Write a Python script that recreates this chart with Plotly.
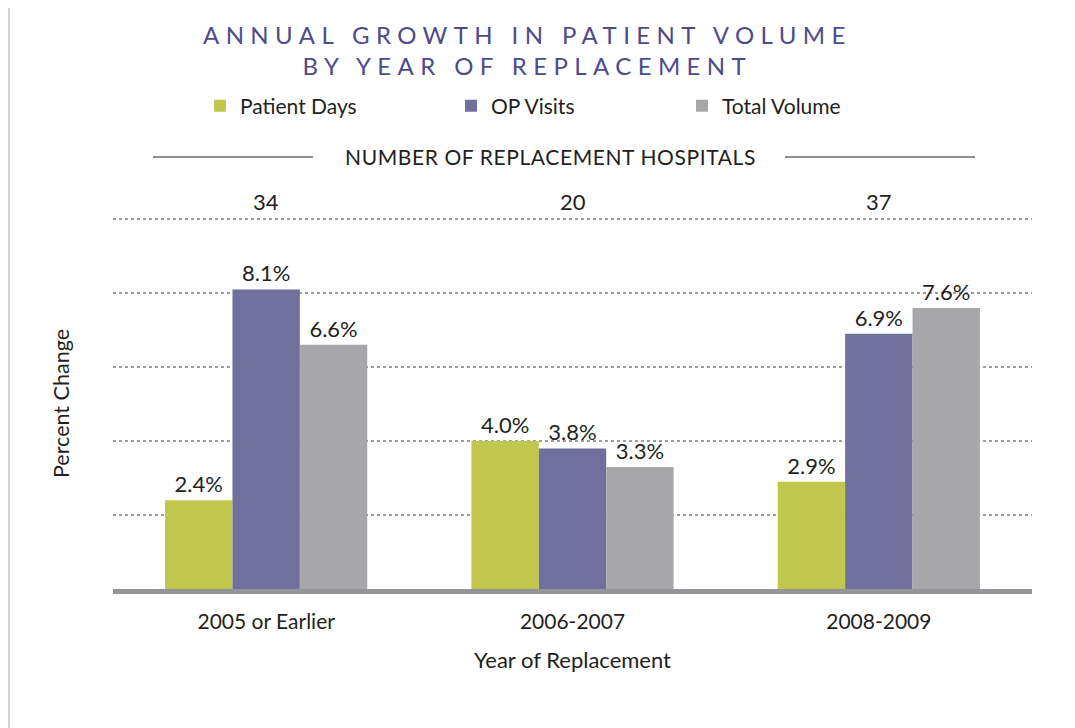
import plotly.graph_objects as go

categories = ["2005 or Earlier", "2006-2007", "2008-2009"]
hospital_counts = ["34", "20", "37"]
series_names = ["Patient Days", "OP Visits", "Total Volume"]
patient_days = [2.4, 4.0, 2.9]
op_visits = [8.1, 3.8, 6.9]
total_volume = [6.6, 3.3, 7.6]
colors = ["#bfc84d", "#716f9c", "#a7a7a9"]
legend_widths = [206, 186, 150]

TEXT = "#231f20"
FONT = "Lato, 'Open Sans', sans-serif"

# page has an 8px body margin; figure placed at (8, 8)
W, H = 1067, 720
PL, PR, PT, PB = 105, 1024, 210, 581   # plot area in figure pixels
PW, PH = PR - PL, PB - PT


def px_x(x):
    return (x - 8 - PL) / PW


def px_y(y):
    return (PB - (y - 8)) / PH


fig = go.Figure()
for name, vals, col, lw in zip(series_names, [patient_days, op_visits, total_volume],
                               colors, legend_widths):
    fig.add_trace(go.Bar(
        name=name, x=categories, y=vals,
        marker=dict(color=col, line=dict(width=0)),
        text=[f"{v:.1f}%" for v in vals],
        textposition="outside",
        textfont=dict(size=22, color=TEXT, family=FONT),
        cliponaxis=False,
        legendwidth=lw,
    ))

# hospital counts above each group
for cat, cnt in zip(categories, hospital_counts):
    fig.add_annotation(x=cat, xref="x", y=px_y(201), yref="paper", text=cnt,
                       showarrow=False, yanchor="middle",
                       font=dict(size=22, color=TEXT, family=FONT))

# header text with rules
fig.add_annotation(x=px_x(550), xref="paper", y=px_y(157), yref="paper",
                   text="<span style='letter-spacing:0.6px'>NUMBER OF REPLACEMENT HOSPITALS</span>",
                   showarrow=False, yanchor="middle",
                   font=dict(size=21, color=TEXT, family=FONT))
for x0, x1 in [(153, 313), (785, 975)]:
    fig.add_shape(type="line", xref="paper", yref="paper", x0=px_x(x0), x1=px_x(x1),
                  y0=px_y(157), y1=px_y(157), line=dict(color="#231f20", width=1))

# faint frame lines at page edges
for xv in [9, 1068]:
    fig.add_shape(type="line", xref="paper", yref="paper",
                  x0=px_x(xv), x1=px_x(xv), y0=px_y(728), y1=px_y(8),
                  line=dict(color="#d4d4d4", width=2))

# title as annotation
fig.add_annotation(
    x=px_x(527), xref="paper", y=px_y(50), yref="paper",
    xanchor="center", yanchor="middle", showarrow=False,
    text="<span style='letter-spacing:6.4px'>ANNUAL GROWTH IN PATIENT VOLUME"
         "<br>BY YEAR OF REPLACEMENT</span>",
    font=dict(size=24, color="#4e4a8c", family=FONT),
)

fig.update_layout(
    width=W, height=H,
    margin=dict(l=PL, r=W - PR, t=PT, b=H - PB),
    paper_bgcolor="white", plot_bgcolor="white",
    barmode="group", bargap=0.34, bargroupgap=0,
    legend=dict(
        orientation="h", x=px_x(200), xanchor="left", y=px_y(106), yanchor="middle",
        font=dict(size=21, color=TEXT, family=FONT), bgcolor="rgba(0,0,0,0)",
        traceorder="normal",
    ),
    xaxis=dict(
        showline=True, linecolor="#939598", linewidth=5,
        ticks="", tickfont=dict(size=21, color=TEXT, family=FONT),
        ticklabelstandoff=10,
        title=dict(text="Year of Replacement", standoff=22,
                   font=dict(size=22, color=TEXT, family=FONT)),
        showgrid=False,
    ),
    yaxis=dict(
        range=[0, 10.03], tickvals=[2, 4, 6, 8, 10], showticklabels=False,
        showgrid=True, gridcolor="#9d9d9f", gridwidth=2, griddash="dot",
        zeroline=False, showline=False, ticks="",
        title=dict(text="Percent Change", standoff=36,
                   font=dict(size=21.5, color=TEXT, family=FONT)),
    ),
    font=dict(family=FONT, color=TEXT),
)

fig.write_html("out.html")
